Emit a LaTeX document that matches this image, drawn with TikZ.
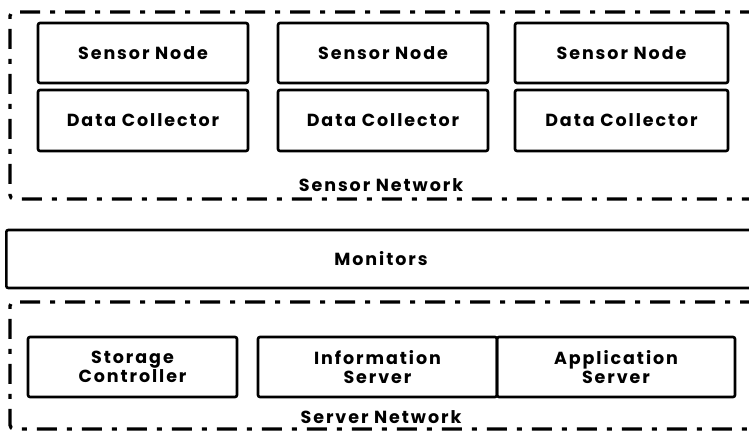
\documentclass[tikz,border=0pt]{standalone}
\usepackage{fontspec}
\setmainfont{Poppins}[LetterSpace=11]
\tikzset{
  blk/.style={draw, line width=2.6pt, rounded corners=2pt, minimum height=60pt,
    inner sep=0pt, align=center, font=\bfseries\fontsize{17.5}{19}\selectfont},
  netline/.style={line width=3.4pt, dash pattern=on 20pt off 10pt on 5pt off 10pt},
  netlabel/.style={font=\bfseries\fontsize{17.5}{19}\selectfont, inner sep=0pt}
}
\begin{document}
\begin{tikzpicture}[x=1pt,y=-1pt]
  \useasboundingbox (0,0) rectangle (749,431);
  \clip (0,0) rectangle (749,431);
  % sensor side
  \node[blk, minimum width=210pt] (sn1) at (143,53) {Sensor Node};
  \node[blk, minimum width=210pt] (sn2) at (383,53) {Sensor Node};
  \node[blk, minimum width=213pt] (sn3) at (621.5,53) {Sensor Node};
  \node[blk, minimum width=210pt, minimum height=61pt] (dc1) at (143,120.5) {Data Collector};
  \node[blk, minimum width=210pt, minimum height=61pt] (dc2) at (383,120.5) {Data Collector};
  \node[blk, minimum width=213pt, minimum height=61pt] (dc3) at (621.5,120.5) {Data Collector};
  \node[netlabel] (sensornet) at (381,185) {Sensor Network};
  \draw[netline, rounded corners=4pt] (760,12) -- (10,12) -- (10,199) -- (760,199);
  % monitors
  \node[blk, minimum width=752pt, minimum height=58pt, anchor=west] (mon) at (5,259) {};
  \node[netlabel] (montext) at (381,259) {Monitors};
  % server side
  \node[blk, minimum width=209pt] (stor) at (132.5,367) {Storage\\Controller};
  \node[blk, minimum width=239pt] (info) at (377.5,367) {Information\\Server};
  \node[blk, minimum width=238pt] (app) at (616,367) {Application\\Server};
  \node[netlabel] (servernet) at (381,417) {Server Network};
  \draw[netline, rounded corners=4pt] (760,302) -- (10,302) -- (10,429) -- (760,429);
\end{tikzpicture}
\end{document}
